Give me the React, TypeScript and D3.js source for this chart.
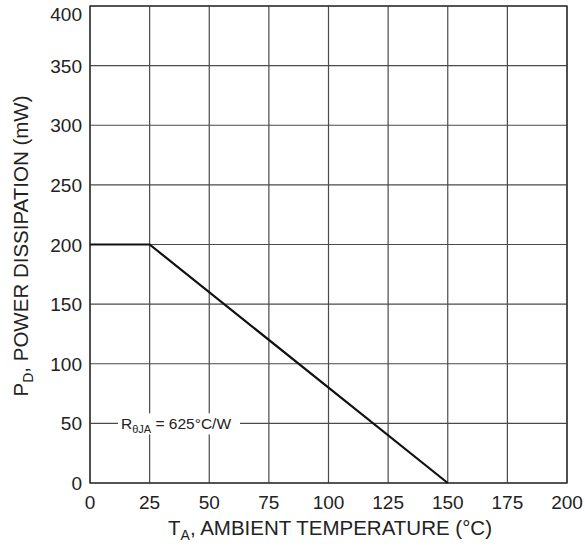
import React from "react";
import * as d3 from "d3";

const xTicks = [0, 25, 50, 75, 100, 125, 150, 175, 200];
const yTicks = [0, 50, 100, 150, 200, 250, 300, 350, 400];
const curveT = [0, 25, 150];
const curveP = [200, 200, 0];

const W = 585, H = 546;
const L = 90, R = 567, T = 6, B = 483;

export default function App() {
  const x = d3.scaleLinear().domain([0, 200]).range([L, R]);
  const y = d3.scaleLinear().domain([0, 400]).range([B, T]);
  const pts = curveT.map((t, i) => [t, curveP[i]] as [number, number]);
  const line = d3.line<[number, number]>().x(d => x(d[0])).y(d => y(d[1]));
  const font = "Liberation Sans, Arial, sans-serif";
  const gc = "#4a4a4a";
  return (
    <svg width={W} height={H} style={{ position: "absolute", left: 0, top: 0, background: "#fff" }} fontFamily={font}>
      <rect x={0} y={0} width={W} height={H} fill="#fff" />
      {xTicks.map(t => (
        <line key={"gx" + t} x1={x(t)} x2={x(t)} y1={T} y2={B} stroke={gc} strokeWidth={1.2} />
      ))}
      {yTicks.map(t => (
        <line key={"gy" + t} x1={L} x2={R} y1={y(t)} y2={y(t)} stroke={gc} strokeWidth={1.2} />
      ))}
      <rect x={L} y={T} width={R - L} height={B - T} fill="none" stroke="#333" strokeWidth={1.4} />
      {/* annotation */}
      <rect x={118} y={y(50) - 10} width={122} height={21} fill="#fff" />
      <text x={121} y={y(50) + 6} fontSize={15.5} fill="#222">
        R<tspan fontSize={11} dy={4}>θJA</tspan><tspan dy={-4}> = 625°C/W</tspan>
      </text>
      <path d={line(pts) || ""} fill="none" stroke="#111" strokeWidth={2.2} />
      {xTicks.map(t => (
        <text key={"xl" + t} x={x(t)} y={B + 26} fontSize={19} textAnchor="middle" fill="#222">{t}</text>
      ))}
      {yTicks.map(t => (
        <text key={"yl" + t} x={L - 8} y={Math.max(y(t), 14) + 7} fontSize={19} textAnchor="end" fill="#222">{t}</text>
      ))}
      <text x={330} y={535} fontSize={20.5} textAnchor="middle" fill="#222">
        T<tspan fontSize={14} dy={5}>A</tspan><tspan dy={-5}>, AMBIENT TEMPERATURE (°C)</tspan>
      </text>
      <text transform={`translate(28, 246) rotate(-90)`} fontSize={20.5} textAnchor="middle" fill="#222">
        P<tspan fontSize={14} dy={5}>D</tspan><tspan dy={-5}>, POWER DISSIPATION (mW)</tspan>
      </text>
    </svg>
  );
}
